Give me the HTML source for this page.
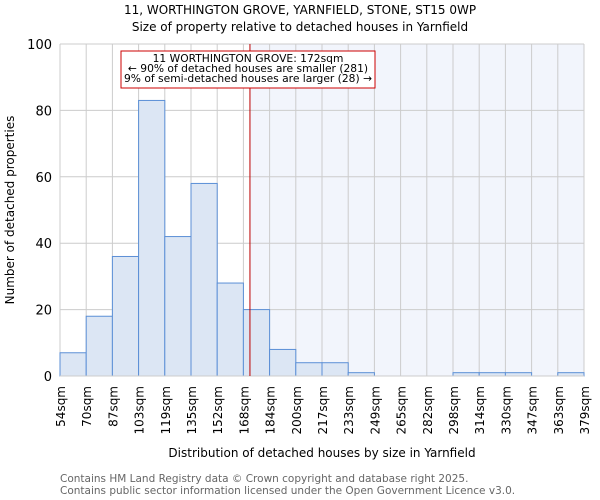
<!DOCTYPE html>
<html><head><meta charset="utf-8"><style>
body{margin:0;background:#fff;font-family:"DejaVu Sans","Liberation Sans",sans-serif}
svg{display:block}
</style></head><body>
<svg id="c" width="600" height="500">
<text x="300" y="14" text-anchor="middle" font-size="12">11, WORTHINGTON GROVE, YARNFIELD, STONE, ST15 0WP</text>
<text x="300" y="31" text-anchor="middle" font-size="12">Size of property relative to detached houses in Yarnfield</text>
<g id="plot"></g>
<text transform="translate(14,210) rotate(-90)" text-anchor="middle" font-size="12">Number of detached properties</text>
<text x="322" y="457" text-anchor="middle" font-size="12">Distribution of detached houses by size in Yarnfield</text>
<text x="60" y="482" font-size="10.5" fill="#666">Contains HM Land Registry data © Crown copyright and database right 2025.</text>
<text x="60" y="494" font-size="10.5" fill="#666">Contains public sector information licensed under the Open Government Licence v3.0.</text>
</svg>
<script>
const categories=["54sqm","70sqm","87sqm","103sqm","119sqm","135sqm","152sqm","168sqm","184sqm","200sqm","217sqm","233sqm","249sqm","265sqm","282sqm","298sqm","314sqm","330sqm","347sqm","363sqm","379sqm"];
const counts=[7,18,36,83,42,58,28,20,8,4,4,1,0,0,0,1,1,1,0,1];
const yTicks=[0,20,40,60,80,100];
const propertyBinPos=[7.25];
const NS="http://www.w3.org/2000/svg";
const g=document.getElementById('plot');
const L=60,R=584,T=44,B=376,n=counts.length;
const x=i=>L+(R-L)*i/n;
const y=v=>B-(B-T)*v/100;
function mk(t,a,p){const e=document.createElementNS(NS,t);for(const k in a)e.setAttribute(k,a[k]);(p||g).appendChild(e);return e;}
const px=x(propertyBinPos[0]);
const sh=mk('rect',{x:px,y:T,width:R-px,height:B-T,fill:'#f2f5fc'});


yTicks.forEach(v=>{
 const l=mk('line',{x1:L,x2:R,y1:y(v),y2:y(v),stroke:'#ccc'});
 
 
 const t=mk('text',{x:L-8,y:y(v)+5,'text-anchor':'end','font-size':'13'});t.textContent=v;
 
 
});
categories.forEach((c,i)=>{
 const l=mk('line',{x1:x(i),x2:x(i),y1:T,y2:B,stroke:'#ccc'});
 
 
 const t=mk('text',{transform:`translate(${x(i)+5},386) rotate(-90)`,'text-anchor':'end','font-size':'12'});t.textContent=c;
 
 
});
counts.forEach((v,i)=>{
 const r=mk('rect',{x:x(i),y:y(v),width:x(i+1)-x(i),height:B-y(v),fill:'#dce6f4',stroke:'#5b8fd6','stroke-width':1});
 
 
});
const ax=mk('line',{x1:L,x2:R,y1:B,y2:B,stroke:'#ccc'});


const pl=mk('line',{x1:px,x2:px,y1:T,y2:B,stroke:'#b00','stroke-width':1});


const box=mk('rect',{x:121,y:51,width:254,height:37,fill:'#fff',stroke:'#c00'});


["11 WORTHINGTON GROVE: 172sqm","← 90% of detached houses are smaller (281)","9% of semi-detached houses are larger (28) →"].forEach((s,i)=>{
 const t=mk('text',{x:248,y:62+i*10,'text-anchor':'middle','font-size':'10.7'});t.textContent=s;
 
 
});
</script>
</body></html>
